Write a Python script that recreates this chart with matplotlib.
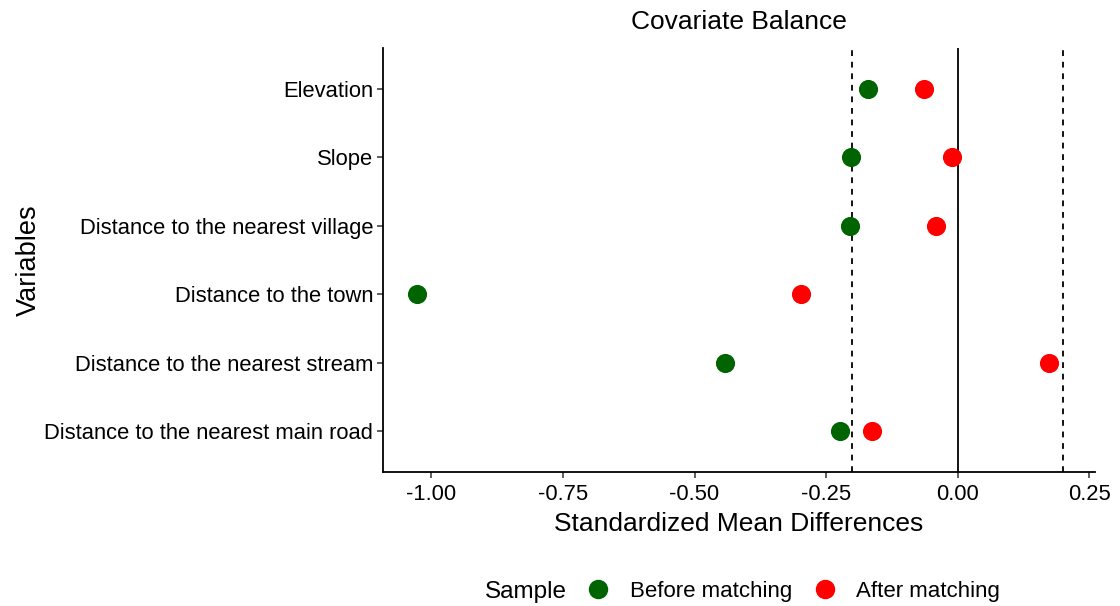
import matplotlib
matplotlib.use("Agg")
import matplotlib.pyplot as plt
from matplotlib.lines import Line2D

plt.rcParams['font.family'] = ['Liberation Sans', 'DejaVu Sans']

variables = [
    "Distance to the nearest main road",
    "Distance to the nearest stream",
    "Distance to the town",
    "Distance to the nearest village",
    "Slope",
    "Elevation",
]
before_matching = [-0.223, -0.443, -1.027, -0.205, -0.202, -0.170]
after_matching = [-0.163, 0.174, -0.297, -0.041, -0.011, -0.063]
threshold = 0.2
x_ticks = [-1.00, -0.75, -0.50, -0.25, 0.00, 0.25]

green = "#006400"
red = "#FF0000"

fig = plt.figure(figsize=(11.2, 6.06), dpi=100)
W, H = 1120, 606
ax = fig.add_axes([383 / W, 1 - 472 / H, (1095 - 383) / W, (472 - 48) / H])

ypos = list(range(len(variables)))
ax.axvline(0, color="black", lw=1.3, zorder=1)
for t in (-threshold, threshold):
    ax.axvline(t, color="black", lw=1.3, ls=(0, (3.2, 3.2)), zorder=1)

ax.scatter(before_matching, ypos, s=190, color=green, zorder=3, linewidths=0)
ax.scatter(after_matching, ypos, s=190, color=red, zorder=3, linewidths=0)

ax.set_xlim(-1.092, 0.261)
ax.set_ylim(-0.6, len(variables) - 0.4)
ax.set_yticks(ypos)
ax.set_yticklabels(variables)
ax.set_xticks(x_ticks)
ax.set_xticklabels([f"{v:.2f}" for v in x_ticks])

for s in ("top", "right"):
    ax.spines[s].set_visible(False)
for s in ("left", "bottom"):
    ax.spines[s].set_linewidth(1.3)
    ax.spines[s].set_color("black")
ax.tick_params(axis="both", length=4, width=1.1, color="#333333",
               labelsize=15.8, labelcolor="black", pad=3)
ax.tick_params(axis="x", pad=5)

ax.set_xlabel("Standardized Mean Differences", fontsize=19, labelpad=5)
ax.set_ylabel("Variables", fontsize=19.5)
ax.yaxis.set_label_coords(-0.479, 0.5)
ax.set_title("Covariate Balance", fontsize=19, pad=13.5)

# legend row: title text on the left, entries following
fig.text(485 / W, 1 - 592 / H, "Sample", fontsize=17.5, ha="left", va="center")
handles = [
    Line2D([], [], marker="o", ls="", color=green, markersize=14, markeredgewidth=0),
    Line2D([], [], marker="o", ls="", color=red, markersize=14, markeredgewidth=0),
]
fig.legend(handles, ["Before matching", "After matching"],
           loc="center left", bbox_to_anchor=(585 / W, 1 - 591 / H),
           ncol=2, frameon=False, fontsize=16,
           handletextpad=0.82, columnspacing=0.87, handlelength=1.2,
           borderaxespad=0, borderpad=0)

fig.savefig("out.png", dpi=100)
